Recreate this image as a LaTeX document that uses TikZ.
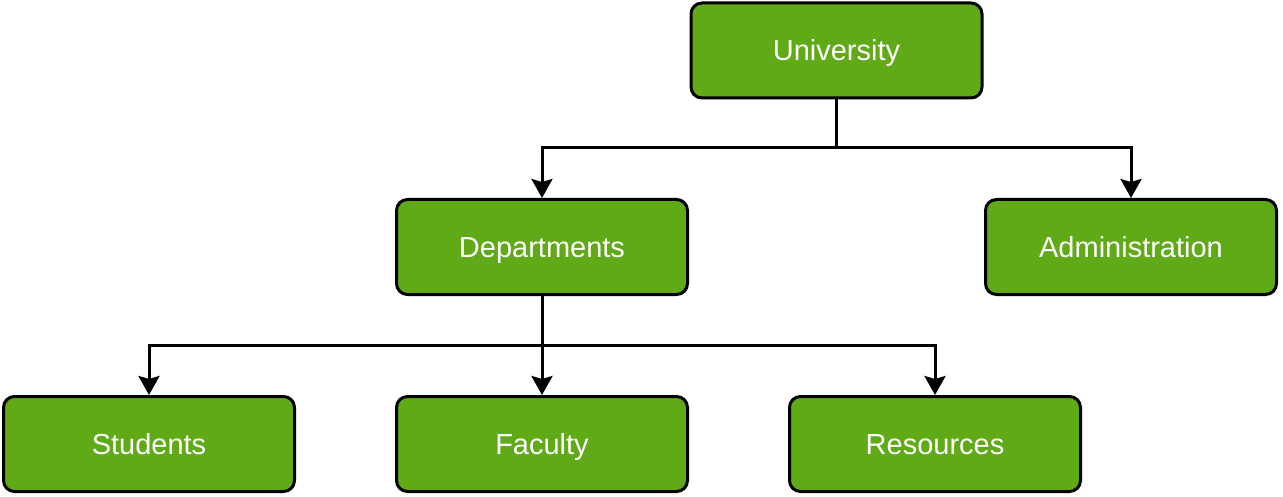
\documentclass[tikz,border=0pt]{standalone}
\usepackage{fontspec}
\setmainfont{Liberation Sans}
\usetikzlibrary{arrows.meta}
\definecolor{boxgreen}{HTML}{60A917}
\tikzset{
  box/.style={draw=black, line width=3pt, fill=boxgreen, rounded corners=11pt,
    minimum width=291pt, minimum height=95pt, text=white, font=\fontsize{29pt}{34pt}\selectfont,
    inner sep=0pt, text height=24pt, text depth=3pt},
  arr/.style={line width=3pt, -{Stealth[width=21pt,length=19pt,inset=3pt]}},
  ln/.style={line width=3pt}
}
\begin{document}
\begin{tikzpicture}[x=1pt,y=-1pt]
\useasboundingbox (0,0) rectangle (1283,497);
\node[box] (univ) at (836.5,50.5) {University};
\node[box] (dept) at (542,247) {Departments};
\node[box] (admin) at (1131,247) {Administration};
\node[box] (stud) at (149,444) {Students};
\node[box] (fac) at (542,444) {Faculty};
\node[box] (res) at (935,444) {Resources};
\coordinate (j1) at (836.5,148);
\coordinate (j2) at (542,345);
\draw[ln] (univ.south) -- (j1);
\draw[arr] (j1) -| (dept.north);
\draw[arr] (j1) -| (admin.north);
\draw[ln] (dept.south) -- (j2);
\draw[arr] (j2) -| (stud.north);
\draw[arr] (j2) -- (fac.north);
\draw[arr] (j2) -| (res.north);
\end{tikzpicture}
\end{document}
